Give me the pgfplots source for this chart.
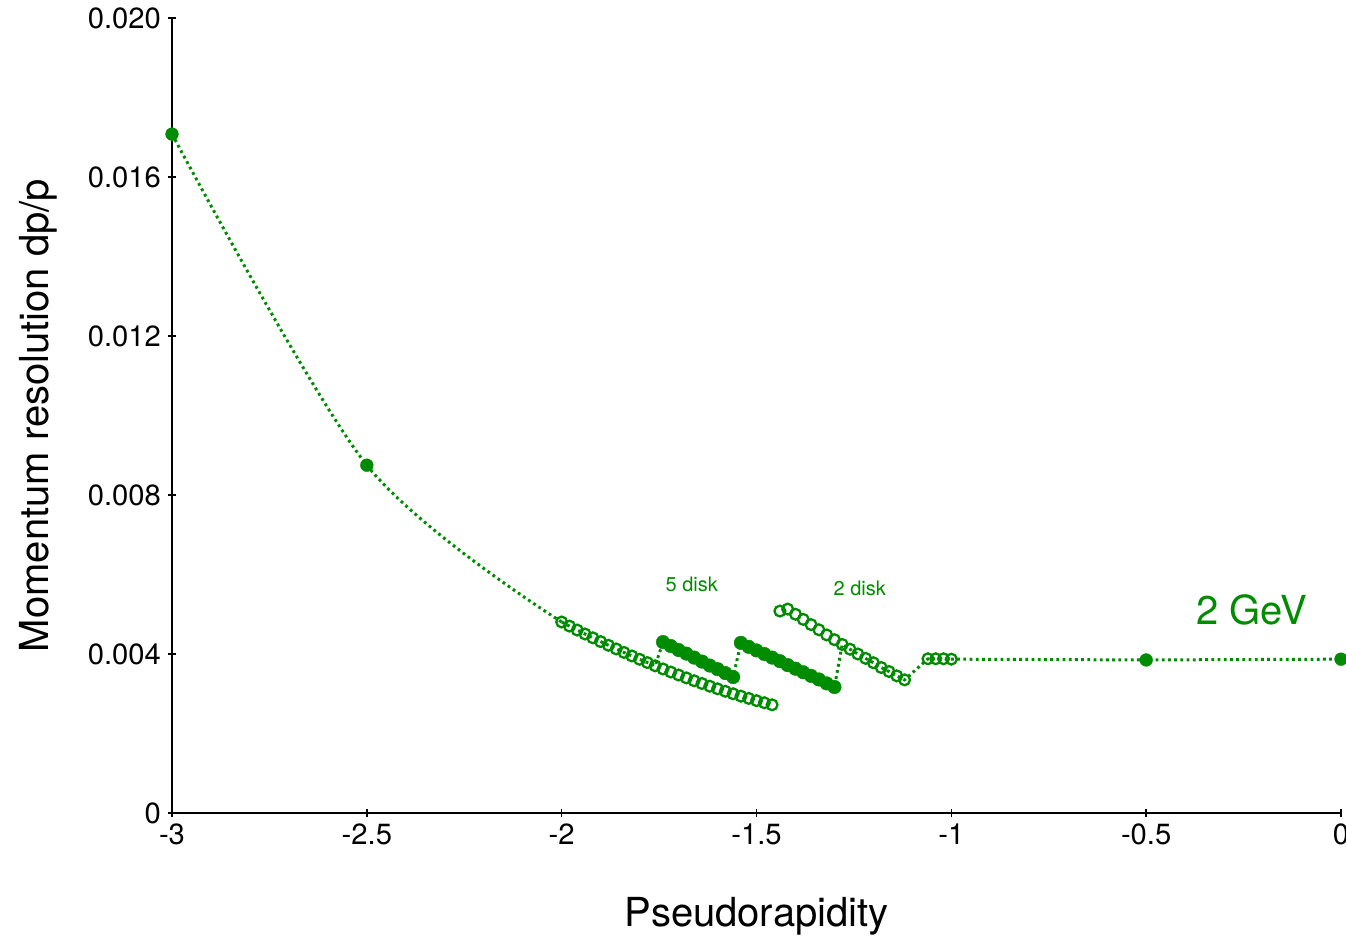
\documentclass[border=0pt]{standalone}
\usepackage{pgfplots}
\usepackage{pgfplotstable}
\pgfplotsset{compat=1.18}
\usepackage{fontspec}
\setmainfont{TeX Gyre Heros}
\definecolor{gcol}{RGB}{0,140,0}

\pgfplotstableread{
x y
-2.00 0.004805
-1.98 0.004702
-1.96 0.004602
-1.94 0.004503
-1.92 0.004407
-1.90 0.004312
-1.88 0.004219
-1.86 0.004128
-1.84 0.004039
-1.82 0.003952
-1.80 0.003867
-1.78 0.003784
-1.76 0.003703
-1.74 0.003624
-1.72 0.003547
-1.70 0.003472
-1.68 0.003399
-1.66 0.003327
-1.64 0.003258
-1.62 0.003190
-1.60 0.003125
-1.58 0.003062
-1.56 0.003000
-1.54 0.002940
-1.52 0.002883
-1.50 0.002827
-1.48 0.002774
-1.46 0.002722
}\openA

\pgfplotstableread{
x y
-1.74 0.00430
-1.72 0.00420
-1.70 0.00410
-1.68 0.00401
-1.66 0.00391
-1.64 0.00381
-1.62 0.00371
-1.60 0.00362
-1.58 0.00352
-1.56 0.00342
}\fillA

\pgfplotstableread{
x y
-1.54 0.00428
-1.52 0.00418
-1.50 0.00409
-1.48 0.00400
-1.46 0.00391
-1.44 0.00382
-1.42 0.00372
-1.40 0.00363
-1.38 0.00354
-1.36 0.00345
-1.34 0.00336
-1.32 0.00326
-1.30 0.00317
}\fillB

\pgfplotstableread{
x y
-1.44 0.00508
-1.42 0.00513
-1.40 0.00500
-1.38 0.00487
-1.36 0.00474
-1.34 0.00461
-1.32 0.00448
-1.30 0.00436
-1.28 0.00424
-1.26 0.00412
-1.24 0.00400
-1.22 0.00389
-1.20 0.00378
-1.18 0.00366
-1.16 0.00356
-1.14 0.00345
-1.12 0.00335
}\openB

\pgfplotstableread{
x y
-1.06 0.00388
-1.04 0.00388
-1.02 0.00388
-1.00 0.00387
}\openC

\pgfplotstableread{
x y
-3.0 0.01708
-2.5 0.00875
-0.5 0.00385
0.0 0.00387
}\big

% path of the dotted connecting line
\pgfplotstableread{
x y
-2.00 0.004805
-1.98 0.004702
-1.96 0.004602
-1.94 0.004503
-1.92 0.004407
-1.90 0.004312
-1.88 0.004219
-1.86 0.004128
-1.84 0.004039
-1.82 0.003952
-1.80 0.003867
-1.78 0.003784
-1.76 0.003703
-1.74 0.00430
-1.72 0.00420
-1.70 0.00410
-1.68 0.00401
-1.66 0.00391
-1.64 0.00381
-1.62 0.00371
-1.60 0.00362
-1.58 0.00352
-1.56 0.00342
-1.54 0.00428
-1.52 0.00418
-1.50 0.00409
-1.48 0.00400
-1.46 0.00391
-1.44 0.00382
-1.42 0.00372
-1.40 0.00363
-1.38 0.00354
-1.36 0.00345
-1.34 0.00336
-1.32 0.00326
-1.30 0.00317
-1.28 0.00424
-1.26 0.00412
-1.24 0.00400
-1.22 0.00389
-1.20 0.00378
-1.18 0.00366
-1.16 0.00356
-1.14 0.00345
-1.12 0.00335
-1.06 0.00388
-1.04 0.00388
-1.02 0.00388
-1.00 0.00387
-0.50 0.00385
0.00 0.00387
}\linepath

\begin{document}
\begin{tikzpicture}
\begin{axis}[
  width=584.5pt, height=397.5pt, scale only axis,
  xmin=-3, xmax=0, ymin=0, ymax=0.020,
  axis lines=left,
  axis line style={-, line width=0.75pt, black},
  xtick={-3,-2.5,-2,-1.5,-1,-0.5,0},
  xticklabels={-3,-2.5,-2,-1.5,-1,-0.5,0},
  ytick={0,0.004,0.008,0.012,0.016,0.020},
  yticklabels={0,0.004,0.008,0.012,0.016,0.020},
  scaled y ticks=false, scaled x ticks=false,
  tick align=center, major tick length=4pt,
  tick style={black, line width=0.75pt},
  ticklabel style={font=\fontsize{14.6}{17}\selectfont},
  xlabel={Pseudorapidity},
  ylabel={Momentum resolution dp/p},
  label style={font=\fontsize{20}{24}\selectfont},
  xlabel style={at={(axis description cs:0.5,-0.1305)}, anchor=center},
  ylabel style={at={(axis description cs:-0.1145,0.5)}, anchor=center},
  clip=false,
]
\coordinate (SW) at (rel axis cs:0,0);
\coordinate (NE) at (rel axis cs:1,1);

% dotted connecting curve
\addplot[gcol, line width=1.5pt, dash pattern=on 1.4pt off 1.7pt, smooth, no marks]
  coordinates {(-3,0.01708) (-2.5,0.00875) (-2.0,0.004805)};
\addplot[gcol, line width=1.5pt, dash pattern=on 1.4pt off 1.7pt, sharp plot, no marks]
  table[x=x,y=y] {\linepath};

% open markers
\addplot[only marks, mark=o, mark size=2.7pt, gcol,
  mark options={fill=white, draw=gcol, line width=1.15pt}] table[x=x,y=y] {\openA};
\addplot[only marks, mark=o, mark size=2.7pt, gcol,
  mark options={fill=white, draw=gcol, line width=1.15pt}] table[x=x,y=y] {\openB};
\addplot[only marks, mark=o, mark size=2.7pt, gcol,
  mark options={fill=white, draw=gcol, line width=1.15pt}] table[x=x,y=y] {\openC};

% filled markers
\addplot[only marks, mark=*, mark size=3.4pt, gcol,
  mark options={fill=gcol, draw=gcol, line width=0.2pt}] table[x=x,y=y] {\fillA};
\addplot[only marks, mark=*, mark size=3.4pt, gcol,
  mark options={fill=gcol, draw=gcol, line width=0.2pt}] table[x=x,y=y] {\fillB};
\addplot[only marks, mark=*, mark size=3.2pt, gcol,
  mark options={fill=gcol, draw=gcol, line width=0.2pt}] table[x=x,y=y] {\big};

\node[gcol, font=\fontsize{10}{12}\selectfont] at (axis cs:-1.666,0.00574) {5 disk};
\node[gcol, font=\fontsize{10}{12}\selectfont] at (axis cs:-1.235,0.00564) {2 disk};
\node[gcol, font=\fontsize{20}{24}\selectfont] at (axis cs:-0.229,0.00511) {2 GeV};
\end{axis}
\pgfresetboundingbox
\path[use as bounding box] ([xshift=-86pt,yshift=-61.5pt]SW) rectangle ([xshift=2.5pt,yshift=9pt]NE);
\end{tikzpicture}
\end{document}
